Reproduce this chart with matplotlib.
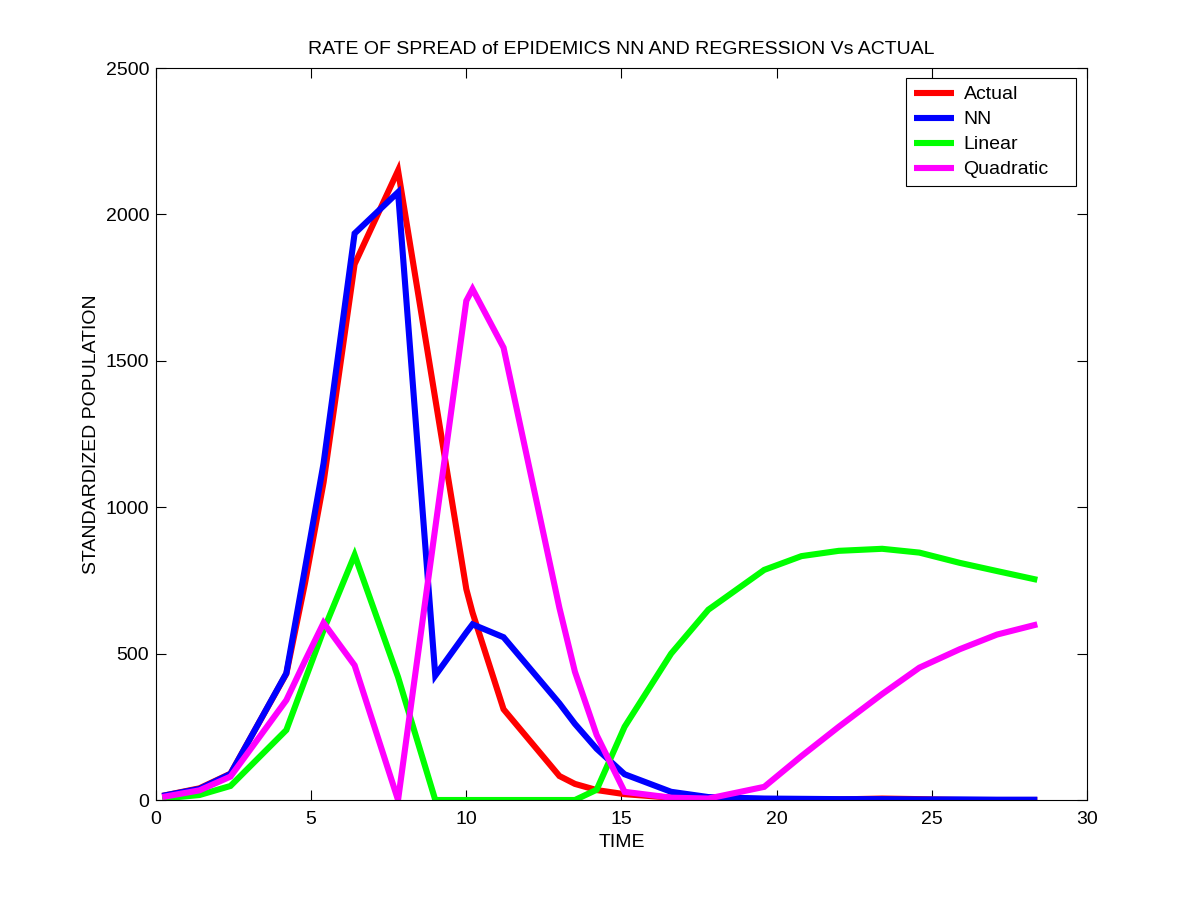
import matplotlib
matplotlib.use("Agg")
import matplotlib.pyplot as plt
import numpy as np

plt.rcParams['font.family'] = ['Liberation Sans', 'DejaVu Sans']

# Time points (shared by all series)
time = [0.2, 1.4, 2.4, 4.2, 4.8, 5.4, 6.4, 7.8, 9.0, 10.0, 10.2, 11.2, 13.0,
        13.5, 14.2, 15.1, 16.6, 17.8, 19.6, 20.8, 22.0, 23.4, 24.6, 25.9,
        27.1, 28.4]

actual = [14, 40, 90, 431, 740, 1085, 1830, 2150, 1370, 720, 640, 310, 82,
          55, 34, 20, 8, 4, 3, 2, 2, 5, 3, 0, 0, 0]

nn = [14, 38, 89, 433, 790, 1150, 1935, 2076, 425, 572, 600, 556, 330,
      260, 175, 88, 28, 10, 5, 4, 3, 3, 2, 2, 1, 1]

linear = [5, 17, 48, 239, 410, 580, 837, 420, 0, 0, 0, 0, 0,
          0, 35, 250, 500, 650, 786, 833, 851, 858, 845, 810, 782, 752]

quadratic = [10, 33, 80, 341, 475, 605, 460, 0, 930, 1705, 1745, 1545, 656,
             438, 222, 28, 8, 5, 45, 150, 250, 362, 452, 515, 565, 600]

series_names = ['Actual', 'NN', 'Linear', 'Quadratic']
series_colors = ['#ff0000', '#0000ff', '#00ff00', '#ff00ff']

x_ticks = [0, 5, 10, 15, 20, 25, 30]
y_ticks = [0, 500, 1000, 1500, 2000, 2500]

fig = plt.figure(figsize=(12, 9), dpi=100)
ax = fig.add_axes([0.13, 0.1111, 0.7758, 0.8133])

for vals, name, col in zip([actual, nn, linear, quadratic], series_names, series_colors):
    ax.plot(time, vals, color=col, linewidth=4.4, label=name,
            solid_joinstyle='miter', solid_capstyle='butt')

ax.set_xlim(0, 30)
ax.set_ylim(0, 2500)
ax.set_xticks(x_ticks)
ax.set_yticks(y_ticks)
ax.tick_params(direction='in', length=7, width=0.8, top=True, right=True,
               labelsize=14, colors='black')
ax.tick_params(axis='x', pad=8)
ax.tick_params(axis='y', pad=5)
for sp in ax.spines.values():
    sp.set_linewidth(0.8)
    sp.set_color('black')

ax.set_title('RATE OF SPREAD of EPIDEMICS NN AND REGRESSION Vs ACTUAL',
             fontsize=14, pad=10)
ax.set_xlabel('TIME', fontsize=14)
ax.set_ylabel('STANDARDIZED POPULATION', fontsize=14)

leg = ax.legend(loc='upper left', bbox_to_anchor=(0.8056, 0.5, 0.1826, 0.4863),
                mode='expand', fontsize=14, fancybox=False, framealpha=1,
                edgecolor='black', handlelength=2.06, borderaxespad=0.0,
                labelspacing=0.38, handletextpad=0.5, borderpad=0.4)
leg.get_frame().set_linewidth(0.8)

fig.savefig('out.png', dpi=100, facecolor='white')
